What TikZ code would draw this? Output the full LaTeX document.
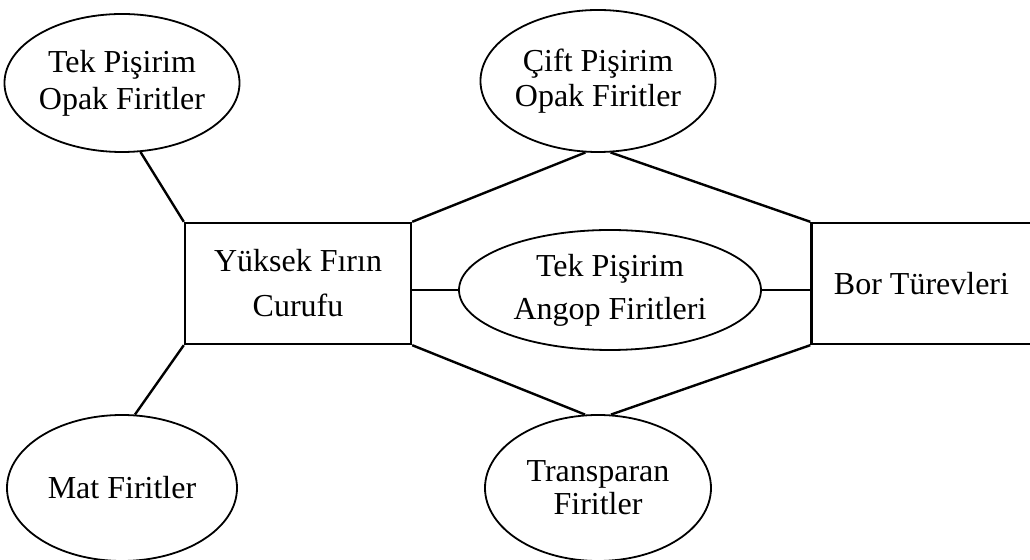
\documentclass[tikz,border=0pt]{standalone}
\usepackage{fontspec}
\setmainfont{Liberation Serif}
\usetikzlibrary{shapes.geometric}
\begin{document}
\begin{tikzpicture}[x=0.5pt,y=-0.5pt,
  every node/.style={align=center, inner sep=0pt},
  lsp/.style={font=\fontsize{16}{#1}\selectfont},
  oval/.style={draw, ellipse, line width=0.9pt},
  blk/.style={draw, rectangle, line width=1.2pt},
  conn/.style={line width=1.2pt}]
\clip (0,0) rectangle (1030,560);
\useasboundingbox (0,0) rectangle (1030,560);
% boxes
\node[blk, lsp=22.5, minimum width=113pt, minimum height=60.5pt] (yk) at (298,283.5) {Yüksek Fırın\\Curufu};
\node[blk, lsp=22.5, minimum width=110pt, minimum height=60.5pt] (bor) at (921.5,283.5) {Bor Türevleri};
% ellipses
\node[oval, lsp=18.5, minimum width=115pt, minimum height=69pt] (tl) at (122,83) {Tek Pişirim\\Opak Firitler};
\node[oval, lsp=18.5, minimum width=115pt, minimum height=73pt] (mat) at (122,488) {Mat Firitler};
\node[oval, lsp=17.5, minimum width=113pt, minimum height=71pt] (cift) at (598,81) {Çift Pişirim\\Opak Firitler};
\node[oval, lsp=16.5, minimum width=113pt, minimum height=73pt] (tr) at (598,488) {Transparan\\Firitler};
\node[oval, lsp=21.5, minimum width=151pt, minimum height=60pt] (mid) at (610,290) {Tek Pişirim\\Angop Firitleri};
% connectors
\draw[conn] (tl.285) -- (yk.north west);
\draw[conn] (mat.80) -- (yk.south west);
\draw[conn] (cift.260) -- (yk.north east);
\draw[conn] (cift.280) -- (bor.north west);
\draw[conn] (tr.100) -- (yk.south east);
\draw[conn] (tr.80) -- (bor.south west);
\draw[conn] (mid.west) -- (mid.west -| yk.east);
\draw[conn] (mid.east) -- (mid.east -| bor.west);
\end{tikzpicture}
\end{document}
